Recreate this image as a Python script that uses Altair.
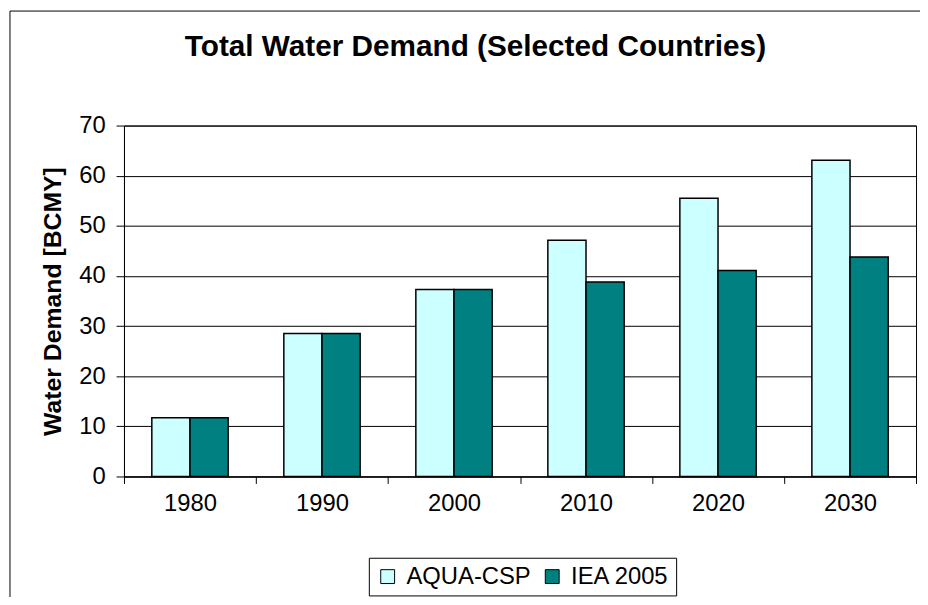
import altair as alt
import pandas as pd

years = ["1980", "1990", "2000", "2010", "2020", "2030"]
series = ["AQUA-CSP", "IEA 2005"]
aqua_csp = [11.7, 28.5, 37.3, 47.1, 55.5, 63.1]
iea_2005 = [11.7, 28.5, 37.3, 38.8, 41.1, 43.8]
colors = ["#CCFFFF", "#008080"]
y_ticks = [0, 10, 20, 30, 40, 50, 60, 70]

rows = []
for yr, a, i in zip(years, aqua_csp, iea_2005):
    rows.append({"year": yr, "series": series[0], "value": a})
    rows.append({"year": yr, "series": series[1], "value": i})
df = pd.DataFrame(rows)

FONT = "Liberation Sans"

bars = alt.Chart(df).mark_bar(stroke="black", strokeWidth=1.5).encode(
    x=alt.X(
        "year:N", sort=years,
        scale=alt.Scale(paddingInner=0, paddingOuter=0),
        axis=alt.Axis(
            title=None, labelAngle=0, tickBand="extent", tickSize=7,
            labelFont=FONT, labelFontSize=24, labelPadding=20,
            labelBaseline="middle", labelColor="black",
            domainColor="black", tickColor="black", grid=False,
        ),
    ),
    xOffset=alt.XOffset(
        "series:N", sort=series,
        scale=alt.Scale(paddingInner=0, paddingOuter=0.7295),
    ),
    y=alt.Y(
        "value:Q",
        scale=alt.Scale(domain=[0, 70], nice=False),
        axis=alt.Axis(
            values=y_ticks, title="Water Demand [BCMY]",
            titleFont=FONT, titleFontSize=25, titleFontWeight="bold",
            titleColor="black", titleAngle=270, titleX=-72, titleY=177,
            titleAlign="center", titleBaseline="middle",
            labelFont=FONT, labelFontSize=24, labelColor="black",
            labelPadding=11, tickSize=8, tickColor="black",
            domainColor="black", gridColor="black", gridWidth=1,
        ),
    ),
    color=alt.Color(
        "series:N", sort=series,
        scale=alt.Scale(domain=series, range=colors),
        legend=alt.Legend(
            title=None, orient="none", legendX=247, legendY=436,
            direction="horizontal", strokeColor="black", fillColor="white",
            padding=7, symbolType="square", symbolSize=196,
            symbolStrokeColor="black", symbolStrokeWidth=1, symbolOpacity=1,
            labelFont=FONT, labelFontSize=24, labelColor="black",
            labelOffset=7, columnPadding=9, labelLimit=400,
        ),
    ),
)

one = alt.Data(values=[{"k": 1}])
frame_left = alt.Chart(one).mark_rule(color="black", strokeWidth=1).encode(
    x=alt.value(-115), y=alt.value(-115.5), y2=alt.value(490)
)
frame_top = alt.Chart(one).mark_rule(color="black", strokeWidth=1).encode(
    x=alt.value(-115), x2=alt.value(815), y=alt.value(-115.5)
)

chart = alt.layer(bars, frame_left, frame_top).properties(
    width=799,
    height=354,
    padding={"left": 117, "top": 116, "right": 4, "bottom": 119},
    autosize=alt.AutoSizeParams(type="none"),
    title=alt.TitleParams(
        text="Total Water Demand (Selected Countries)",
        font=FONT, fontSize=30, fontWeight="bold", color="black",
        anchor="middle", dx=-45, dy=76, offset=0, baseline="alphabetic",
    ),
).configure_view(stroke="black", strokeWidth=1)

chart.save("out.html", embed_options={"renderer": "svg", "actions": False})
